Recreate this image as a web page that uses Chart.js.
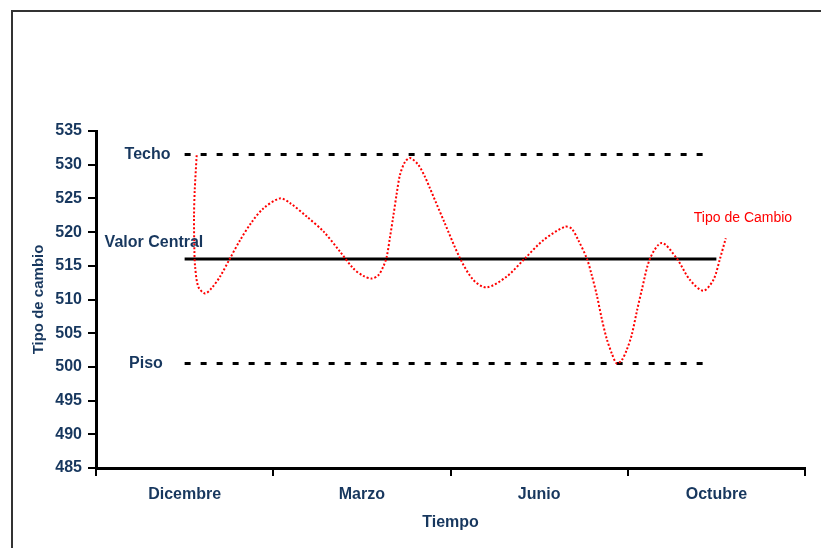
<!DOCTYPE html>
<html>
<head>
<meta charset="utf-8">
<script src="https://cdn.jsdelivr.net/npm/chart.js@4/dist/chart.umd.min.js"></script>
<style>
  html, body { margin: 0; padding: 0; background: #fff; }
  #wrap { position: relative; width: 821px; height: 548px; overflow: hidden; }
  #frame { position: absolute; left: 11px; top: 10px; width: 900px; height: 700px; border: 2px solid #333; box-sizing: border-box; }
  canvas { position: absolute; left: 0; top: 0; }
</style>
</head>
<body>
<div id="wrap">
  <div id="frame"></div>
  <canvas id="c" width="821" height="548"></canvas>
</div>
<script>
// Categories (x axis)
const categories = ['Dicembre', 'Marzo', 'Junio', 'Octubre'];

// Reference levels
const techo = 531.5;
const valorCentral = 516;
const piso = 500.5;

// Horizontal extent of reference lines (category index units): techo, central, piso
const bandStart = [0, 0, 0];
const bandEnd = [2.94, 3.0, 2.93];

// Tipo de Cambio curve (x in category-index units)
const curveX = [0.068, 0.057, 0.053, 0.055, 0.059, 0.077, 0.115, 0.153, 0.200, 0.256,
  0.313, 0.379, 0.444, 0.538, 0.595, 0.689, 0.783, 0.877, 0.952, 1.008,
  1.056, 1.093, 1.121, 1.140, 1.159, 1.177, 1.197, 1.215, 1.243, 1.272,
  1.318, 1.356, 1.384, 1.460, 1.554, 1.629, 1.704, 1.817, 1.920, 2.024,
  2.146, 2.184, 2.221, 2.269, 2.297, 2.325, 2.353, 2.381, 2.410, 2.438,
  2.466, 2.494, 2.522, 2.551, 2.579, 2.626, 2.692, 2.776, 2.851, 2.926,
  2.983, 3.021, 3.053];
const curveY = [531.4, 526.2, 522.3, 517.3, 514.9, 511.9, 510.9, 511.7, 513.4, 516.1,
  518.8, 521.5, 523.5, 525.0, 524.3, 522.3, 520.1, 517.1, 514.6, 513.5,
  513.1, 513.6, 514.9, 516.3, 519.3, 522.3, 525.8, 528.5, 530.4, 531.0,
  530.0, 528.2, 526.5, 521.8, 516.1, 512.9, 511.8, 513.4, 516.1, 518.8,
  520.8, 520.5, 518.8, 516.1, 513.6, 510.7, 507.2, 504.2, 502.0, 500.5,
  501.0, 502.5, 504.7, 508.2, 511.4, 516.1, 518.4, 516.1, 512.9, 511.3,
  512.9, 516.1, 519.1];

// Y axis ticks
const yMin = 485, yMax = 535, yStep = 5;

// Text annotations
const annotText = ['Techo', 'Valor Central', 'Piso', 'Tipo de Cambio'];
const annotX = [-0.209, -0.173, -0.218, 3.15];
const annotY = [531.5, 518.4, 500.5, 522.1];

const navy = '#17375E';
const font = 'Arial, "Liberation Sans", sans-serif';

const annotPlugin = {
  id: 'annot',
  afterDatasetsDraw(chart) {
    const ctx = chart.ctx;
    const xs = chart.scales.x2, ys = chart.scales.y;
    ctx.save();
    ctx.textAlign = 'center';
    ctx.textBaseline = 'middle';
    annotText.forEach((t, i) => {
      const red = i === 3;
      ctx.fillStyle = red ? '#FF0000' : navy;
      ctx.font = (red ? '14px ' : 'bold 16px ') + font;
      ctx.fillText(t, xs.getPixelForValue(annotX[i]), ys.getPixelForValue(annotY[i]));
    });
    ctx.restore();
  }
};

const line = (val, i) => [{x: bandStart[i], y: val}, {x: bandEnd[i], y: val}];

new Chart(document.getElementById('c'), {
  type: 'line',
  data: {
    labels: categories,
    datasets: [
      {
        label: 'Tipo de Cambio',
        data: curveX.map((x, i) => ({x, y: curveY[i]})),
        xAxisID: 'x2',
        borderColor: '#FF0000',
        borderWidth: 2,
        borderDash: [2, 2],
        pointRadius: 0,
        tension: 0.3,
        fill: false
      },
      {
        label: 'Valor Central',
        data: line(valorCentral, 1),
        xAxisID: 'x2',
        borderColor: '#000',
        borderWidth: 3,
        pointRadius: 0,
        fill: false
      },
      {
        label: 'Techo',
        data: line(techo, 0),
        xAxisID: 'x2',
        borderColor: '#000',
        borderWidth: 3,
        borderDash: [6, 10],
        pointRadius: 0,
        fill: false
      },
      {
        label: 'Piso',
        data: line(piso, 2),
        xAxisID: 'x2',
        borderColor: '#000',
        borderWidth: 3,
        borderDash: [6, 10],
        pointRadius: 0,
        fill: false
      }
    ]
  },
  options: {
    responsive: false,
    animation: false,
    events: [],
    layout: { padding: { left: 0, top: 131, right: 16, bottom: 0 } },
    plugins: { legend: { display: false }, tooltip: { enabled: false }, title: { display: false } },
    scales: {
      x: {
        type: 'category',
        offset: true,
        afterFit: s => { s.height = 80; },
        border: { display: true, color: '#000', width: 3 },
        grid: { display: true, drawOnChartArea: false, drawTicks: true, tickLength: 8, color: '#000', lineWidth: 2, offset: true },
        ticks: { color: navy, font: { family: font, size: 16, weight: 'bold' }, padding: 9, maxRotation: 0 },
        title: { display: true, text: 'Tiempo', color: navy, font: { family: font, size: 16, weight: 'bold' }, padding: { top: 16, bottom: 16 } }
      },
      x2: {
        type: 'linear',
        min: -0.5,
        max: 3.5,
        display: false
      },
      y: {
        type: 'linear',
        min: yMin,
        max: yMax,
        afterFit: s => { s.width = 96; },
        border: { display: true, color: '#000', width: 3 },
        grid: { display: true, drawOnChartArea: false, drawTicks: true, tickLength: 8, color: '#000', lineWidth: 2 },
        ticks: { stepSize: yStep, color: navy, font: { family: font, size: 16, weight: 'bold' }, padding: 6 },
        title: { display: true, text: 'Tipo de cambio', color: navy, font: { family: font, size: 15, weight: 'bold' }, padding: { top: 30, bottom: 30 } }
      }
    }
  },
  plugins: [annotPlugin]
});
</script>
</body>
</html>
